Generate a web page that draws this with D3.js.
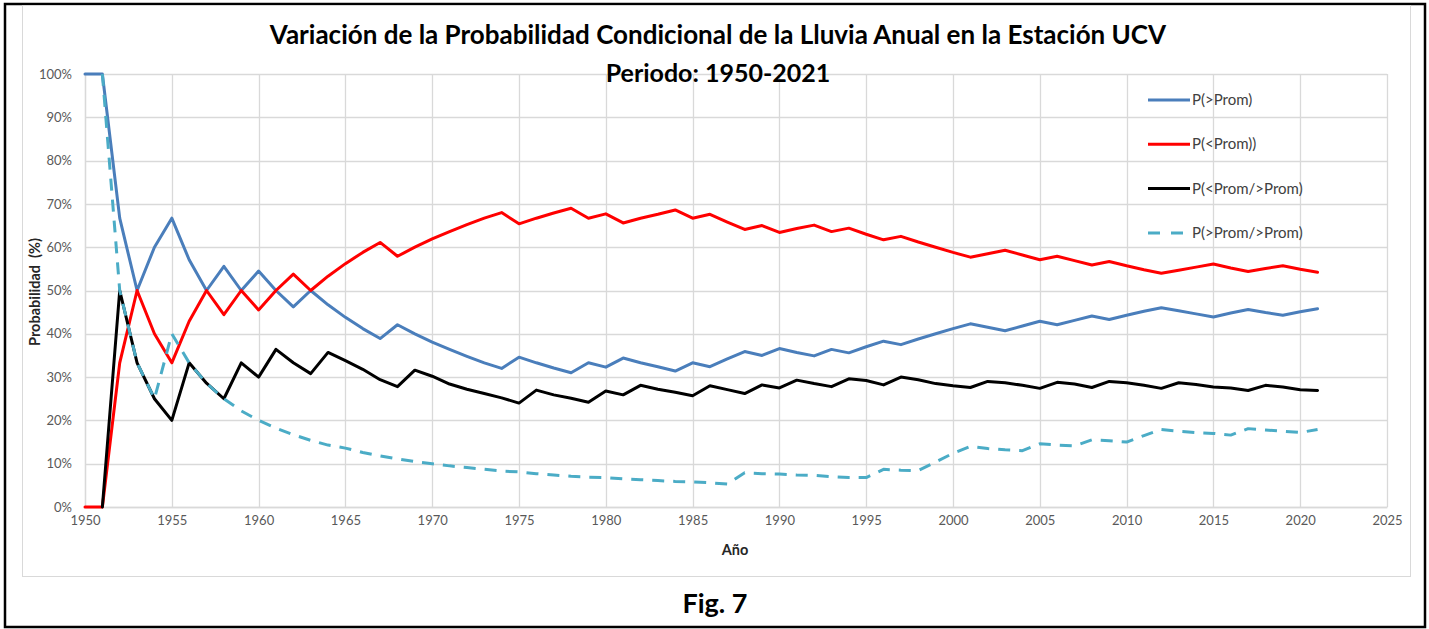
<!DOCTYPE html>
<html>
<head>
<meta charset="utf-8">
<script src="https://cdn.jsdelivr.net/npm/d3@7"></script>
<style>
  body { margin: 0; background: #fff; }
  text { font-family: Lato, "Open Sans", sans-serif; }
</style>
</head>
<body>
<script>
// years 1950..2021
var years = d3.range(1950, 2022);

var pAbove = [100, 100, 66.7, 50, 60, 66.7, 57.1, 50, 55.6, 50,
  54.5, 50, 46.2, 50, 46.7, 43.8, 41.2, 38.9, 42.1, 40,
  38.1, 36.4, 34.8, 33.3, 32, 34.6, 33.3, 32.1, 31.0, 33.3,
  32.3, 34.4, 33.3, 32.4, 31.4, 33.3, 32.4, 34.2, 35.9, 35.0,
  36.6, 35.7, 34.9, 36.4, 35.6, 37.0, 38.3, 37.5, 38.8, 40.0,
  41.2, 42.3, 41.5, 40.7, 41.8, 42.9, 42.1, 43.1, 44.1, 43.3,
  44.3, 45.2, 46.0, 45.3, 44.6, 43.9, 44.8, 45.6, 44.9, 44.3,
  45.1, 45.8];

var pBelow = [0, 0, 33.3, 50, 40, 33.3, 42.9, 50, 44.4, 50,
  45.5, 50, 53.8, 50, 53.3, 56.2, 58.8, 61.1, 57.9, 60,
  61.9, 63.6, 65.2, 66.7, 68, 65.4, 66.7, 67.9, 69.0, 66.7,
  67.7, 65.6, 66.7, 67.6, 68.6, 66.7, 67.6, 65.8, 64.1, 65.0,
  63.4, 64.3, 65.1, 63.6, 64.4, 63.0, 61.7, 62.5, 61.2, 60.0,
  58.8, 57.7, 58.5, 59.3, 58.2, 57.1, 57.9, 56.9, 55.9, 56.7,
  55.7, 54.8, 54.0, 54.7, 55.4, 56.1, 55.2, 54.4, 55.1, 55.7,
  54.9, 54.2];

var pBelowAbove = [null, 0, 50, 33.3, 25, 20, 33.3, 28.6, 25, 33.3,
  30, 36.4, 33.3, 30.8, 35.7, 33.8, 31.8, 29.4, 27.8, 31.6,
  30.2, 28.4, 27.2, 26.2, 25.2, 24.0, 27.0, 25.9, 25.1, 24.2,
  26.8, 25.9, 28.1, 27.2, 26.5, 25.7, 28.0, 27.1, 26.2, 28.2,
  27.5, 29.3, 28.5, 27.8, 29.6, 29.2, 28.2, 30.0, 29.4, 28.5,
  28.0, 27.6, 29.0, 28.7, 28.1, 27.4, 28.8, 28.4, 27.6, 29.0,
  28.7, 28.1, 27.4, 28.7, 28.3, 27.7, 27.5, 26.9, 28.1, 27.7,
  27.1, 26.9];

var pAboveAbove = [null, 100, 50, 33.3, 25, 40, 33.3, 28.6, 25, 22.2,
  20, 18.2, 16.7, 15.4, 14.3, 13.6, 12.6, 11.8, 11.1, 10.5,
  10.0, 9.5, 9.1, 8.7, 8.3, 8.1, 7.7, 7.4, 7.1, 6.9,
  6.8, 6.5, 6.3, 6.1, 5.9, 5.8, 5.6, 5.3, 7.9, 7.7,
  7.6, 7.4, 7.3, 7.0, 6.8, 6.8, 8.7, 8.5, 8.4, 10.4,
  12.4, 14.0, 13.5, 13.2, 13.0, 14.6, 14.3, 14.1, 15.5, 15.3,
  15.0, 16.5, 17.9, 17.5, 17.2, 17.0, 16.6, 18.1, 17.8, 17.5,
  17.2, 17.9];

var seriesNames = ['P(>Prom)', 'P(<Prom))', 'P(<Prom/>Prom)', 'P(>Prom/>Prom)'];
var seriesColors = ['#4a7ebb', '#ff0000', '#000000', '#4bacc6'];
var seriesDash = [null, null, null, '12,9'];
var seriesValues = [pAbove, pBelow, pBelowAbove, pAboveAbove];

var xTicks = d3.range(1950, 2026, 5);
var yTicks = d3.range(0, 101, 10);

var W = 1429, H = 629;
var svg = d3.select('body').append('svg').attr('width', W).attr('height', H);

// outer frame and chart area
svg.append('rect').attr('x', 5).attr('y', 4).attr('width', 1420).attr('height', 623)
  .attr('fill', '#fff').attr('stroke', '#000').attr('stroke-width', 2.5);
svg.append('rect').attr('x', 22.5).attr('y', 5.5).attr('width', 1388).attr('height', 571)
  .attr('fill', '#fff').attr('stroke', '#d9d9d9').attr('stroke-width', 1);

var x = d3.scaleLinear().domain([1950, 2025]).range([85, 1387]);
var y = d3.scaleLinear().domain([0, 100]).range([507, 74]);

// gridlines
svg.append('g').selectAll('line').data(yTicks).enter().append('line')
  .attr('x1', x(1950)).attr('x2', x(2025))
  .attr('y1', function (d) { return Math.round(y(d)) + 0.5; })
  .attr('y2', function (d) { return Math.round(y(d)) + 0.5; })
  .attr('stroke', '#d9d9d9').attr('stroke-width', 1.3);
svg.append('g').selectAll('line').data(xTicks).enter().append('line')
  .attr('x1', function (d) { return Math.round(x(d)) + 0.5; })
  .attr('x2', function (d) { return Math.round(x(d)) + 0.5; })
  .attr('y1', y(100)).attr('y2', y(0))
  .attr('stroke', '#d9d9d9').attr('stroke-width', 1.3);

// axes
var yAxis = svg.append('g').attr('transform', 'translate(' + x(1950) + ',0)')
  .call(d3.axisLeft(y).tickValues(yTicks).tickSize(0).tickPadding(13)
    .tickFormat(function (d) { return d + '%'; }));
var xAxis = svg.append('g').attr('transform', 'translate(0,' + y(0) + ')')
  .call(d3.axisBottom(x).tickValues(xTicks).tickSize(0).tickPadding(9)
    .tickFormat(d3.format('d')));
[xAxis, yAxis].forEach(function (a) {
  a.select('.domain').attr('stroke', '#d9d9d9').attr('stroke-width', 1.3);
  a.selectAll('text').attr('fill', '#595959').style('font-size', '13px')
    .style('font-family', 'Lato, sans-serif');
});

// series
var line = d3.line()
  .defined(function (d) { return d != null; })
  .x(function (d, i) { return x(years[i]); })
  .y(function (d) { return y(d); });

seriesValues.forEach(function (vals, k) {
  svg.append('path').datum(vals)
    .attr('d', line)
    .attr('fill', 'none')
    .attr('stroke', seriesColors[k])
    .attr('stroke-width', 3)
    .attr('stroke-linejoin', 'round')
    .attr('stroke-linecap', seriesDash[k] ? 'butt' : 'round')
    .attr('stroke-dasharray', seriesDash[k]);
});

// legend
var legend = svg.append('g').attr('transform', 'translate(1148,100)');
seriesNames.forEach(function (name, k) {
  var g = legend.append('g').attr('transform', 'translate(0,' + (k * 44.3) + ')');
  g.append('line').attr('x1', 0).attr('x2', 42).attr('y1', 0).attr('y2', 0)
    .attr('stroke', seriesColors[k]).attr('stroke-width', 3)
    .attr('stroke-dasharray', seriesDash[k] ? '12,11' : null);
  g.append('text').attr('x', 44).attr('y', 5).text(name)
    .style('font-size', '15px').attr('fill', '#404040');
});

// titles
svg.append('text').attr('x', 718).attr('y', 44).attr('text-anchor', 'middle')
  .style('font-size', '26px').style('font-weight', 'bold')
  .text('Variación de la Probabilidad Condicional de la Lluvia Anual en la Estación UCV');
svg.append('text').attr('x', 718).attr('y', 82).attr('text-anchor', 'middle')
  .style('font-size', '25px').style('font-weight', 'bold')
  .text('Periodo: 1950-2021');
svg.append('text').attr('x', 735).attr('y', 555).attr('text-anchor', 'middle')
  .style('font-size', '14.5px').style('font-weight', 'bold').attr('fill', '#262626')
  .text('Año');
svg.append('text').attr('transform', 'translate(40,292) rotate(-90)').attr('text-anchor', 'middle')
  .style('font-size', '14.5px').style('font-weight', 'bold').attr('fill', '#262626')
  .style('white-space', 'pre')
  .text('Probabilidad  (%)');
svg.append('text').attr('x', 715).attr('y', 613).attr('text-anchor', 'middle')
  .style('font-size', '27px').style('font-weight', 'bold')
  .text('Fig. 7');
</script>
</body>
</html>
